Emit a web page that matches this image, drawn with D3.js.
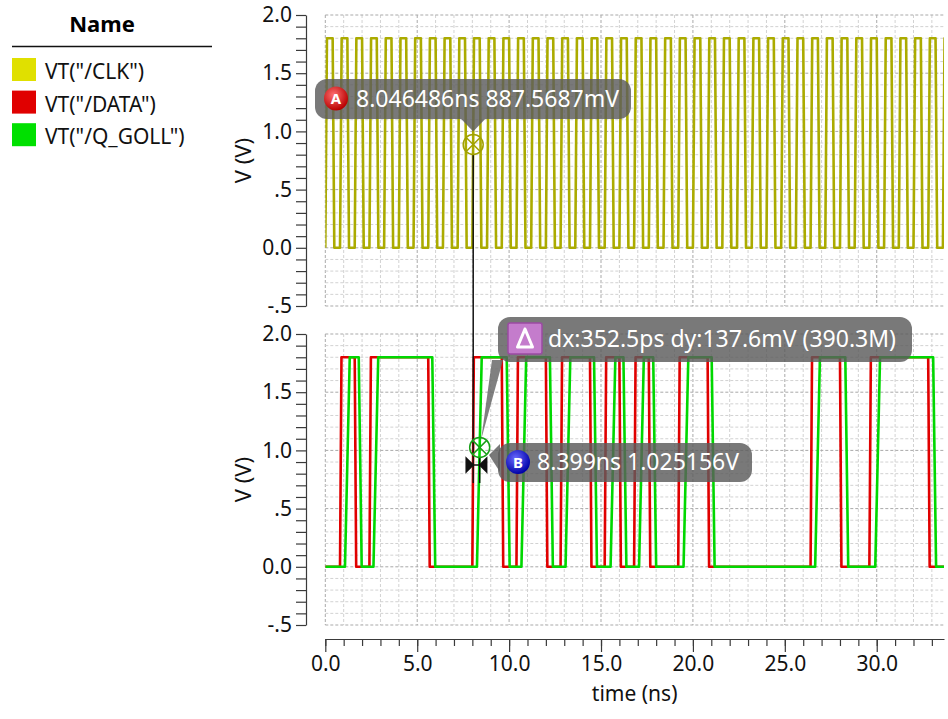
<!DOCTYPE html>
<html lang="en">
<head>
    <meta charset="UTF-8">
    <script src="https://d3js.org/d3.v7.min.js"></script>
    <title>VT waveforms</title>
    <style>
        body { margin: 0; background: #fff; }
        text { font-family: "Noto Sans", sans-serif; }
    </style>
</head>
<body>

    <div id="chart"></div>

    <script>
        // legend entries
        let names = ['VT("/CLK")', 'VT("/DATA")', 'VT("/Q_GOLL")'];
        let swatchColors = ["#e0e000", "#e00000", "#00e000"];
        let traceColors = ["#abab00", "#e00000", "#00d800"];

        // CLK edge times in ns (starts low, first edge rises)
        let clkEdges = [0, 0.4, 0.8, 1.2, 1.6, 2.0, 2.4, 2.8, 3.2, 3.6,
            4.0, 4.4, 4.8, 5.2, 5.6, 6.0, 6.4, 6.8, 7.2, 7.6,
            8.0, 8.4, 8.8, 9.2, 9.6, 10.0, 10.4, 10.8, 11.2, 11.6,
            12.0, 12.4, 12.8, 13.2, 13.6, 14.0, 14.4, 14.8, 15.2, 15.6,
            16.0, 16.4, 16.8, 17.2, 17.6, 18.0, 18.4, 18.8, 19.2, 19.6,
            20.0, 20.4, 20.8, 21.2, 21.6, 22.0, 22.4, 22.8, 23.2, 23.6,
            24.0, 24.4, 24.8, 25.2, 25.6, 26.0, 26.4, 26.8, 27.2, 27.6,
            28.0, 28.4, 28.8, 29.2, 29.6, 30.0, 30.4, 30.8, 31.2, 31.6,
            32.0, 32.4, 32.8, 33.2, 33.6];

        // DATA edge times in ns (starts low)
        let dataEdges = [0.8, 1.6, 2.4, 5.6, 8.0, 9.6, 10.4, 12.0, 12.8, 14.4,
            15.2, 16.0, 16.8, 17.6, 19.2, 20.8, 26.4, 28.0, 29.6, 32.8];

        // Q_GOLL edge mid-points in ns (starts low)
        let qEdges = [1.2, 1.9, 2.75, 5.9, 8.38, 9.95, 10.8, 12.3, 13.2, 14.7,
            15.65, 16.3, 17.2, 17.92, 19.62, 21.1, 26.78, 28.37, 30.05, 33.15];

        let vLow = 0, vHigh = 1.8;
        let tEnd = 33.66;

        // axis ticks
        let yTickValues = [-0.5, 0, 0.5, 1.0, 1.5, 2.0];
        let yTickLabels = ["-.5", "0.0", ".5", "1.0", "1.5", "2.0"];
        let xTickValues = [0, 5, 10, 15, 20, 25, 30];
        let xTickLabels = ["0.0", "5.0", "10.0", "15.0", "20.0", "25.0", "30.0"];

        // markers
        let markerA = {t: 8.046486, v: 0.8875687, label: "8.046486ns 887.5687mV"};
        let markerB = {t: 8.399, v: 1.025156, label: "8.399ns 1.025156V"};
        let deltaLabel = "dx:352.5ps dy:137.6mV (390.3M)";

        let width = 948, height = 719;
        let plotLeft = 325.3, plotRight = 944;
        let topPlot = {top: 15, bottom: 306};
        let botPlot = {top: 334, bottom: 625};
        let axisX = 306;
        let xAxisY = 639;

        let svg = d3.select("#chart")
            .append("svg")
            .attr("width", width)
            .attr("height", height);

        let defs = svg.append("defs");
        let gA = defs.append("radialGradient").attr("id", "gradA").attr("cx", "40%").attr("cy", "35%").attr("r", "65%");
        gA.append("stop").attr("offset", "0%").attr("stop-color", "#ff7070");
        gA.append("stop").attr("offset", "100%").attr("stop-color", "#b80000");
        let gB = defs.append("radialGradient").attr("id", "gradB").attr("cx", "40%").attr("cy", "35%").attr("r", "65%");
        gB.append("stop").attr("offset", "0%").attr("stop-color", "#6a6aff");
        gB.append("stop").attr("offset", "100%").attr("stop-color", "#0000a8");
        defs.append("clipPath").attr("id", "clip")
            .append("rect")
            .attr("x", plotLeft).attr("y", 0)
            .attr("width", plotRight - plotLeft).attr("height", height);

        let x = d3.scaleLinear().domain([0, tEnd]).range([plotLeft, plotRight]);
        let yTop = d3.scaleLinear().domain([-0.5, 2.0]).range([topPlot.bottom, topPlot.top]);
        let yBot = d3.scaleLinear().domain([-0.5, 2.0]).range([botPlot.bottom, botPlot.top]);

        // grid lines: every 1ns and every 0.1V, darker on the major ones
        let gridT = d3.range(0, Math.floor(tEnd) + 1);
        let gridV = d3.range(-5, 21).map(function(d) { return d / 10; });

        let drawGrid = function(y, box) {
            let g = svg.append("g");
            g.selectAll("line.v")
                .data(gridT)
                .enter()
                .append("line")
                .attr("x1", function(d) { return x(d); })
                .attr("x2", function(d) { return x(d); })
                .attr("y1", box.top)
                .attr("y2", box.bottom)
                .attr("stroke", function(d) { return d % 5 === 0 ? "#a9a9a9" : "#d2d2d2"; })
                .attr("stroke-width", 1)
                .attr("stroke-dasharray", "3,2");
            g.selectAll("line.h")
                .data(gridV)
                .enter()
                .append("line")
                .attr("x1", plotLeft)
                .attr("x2", plotRight)
                .attr("y1", function(d) { return y(d); })
                .attr("y2", function(d) { return y(d); })
                .attr("stroke", function(d) { return Math.round(d * 10) % 5 === 0 ? "#a9a9a9" : "#d2d2d2"; })
                .attr("stroke-width", 1)
                .attr("stroke-dasharray", "3,2");
        }
        drawGrid(yTop, topPlot);
        drawGrid(yBot, botPlot);

        // y axes
        let drawYAxis = function(y, mid) {
            let g = svg.append("g")
                .attr("transform", "translate(" + axisX + ",0)");
            g.call(d3.axisLeft(y).tickValues(gridV).tickSize(10).tickSizeOuter(0).tickPadding(4)
                .tickFormat(function(d) {
                    let i = yTickValues.findIndex(function(v) { return Math.abs(v - d) < 1e-6; });
                    return i >= 0 ? yTickLabels[i] : "";
                }));
            g.selectAll("path, line").attr("stroke", "#3a3a3a").attr("stroke-width", 1.2);
            g.selectAll("text").style("font-size", "21px").attr("fill", "#111");
            svg.append("text")
                .attr("transform", "translate(243," + mid + ") rotate(-90)")
                .attr("text-anchor", "middle")
                .attr("dy", "0.35em")
                .style("font-size", "22px")
                .attr("fill", "#111")
                .text("V (V)");
        }
        drawYAxis(yTop, (topPlot.top + topPlot.bottom) / 2);
        drawYAxis(yBot, (botPlot.top + botPlot.bottom) / 2);

        // x axis: minor ticks every ns, labelled major ticks every 5ns
        let xMinor = svg.append("g").attr("transform", "translate(0," + xAxisY + ")");
        xMinor.call(d3.axisBottom(x).tickValues(gridT).tickSize(7).tickSizeOuter(0).tickFormat(""));
        let xMajor = svg.append("g").attr("transform", "translate(0," + xAxisY + ")");
        xMajor.call(d3.axisBottom(x).tickValues(xTickValues).tickSize(13).tickSizeOuter(0).tickPadding(4)
            .tickFormat(function(d, i) { return xTickLabels[i]; }));
        xMajor.select("path").remove();
        svg.selectAll("g.tick line, .domain").attr("stroke", "#3a3a3a").attr("stroke-width", 1.2);
        xMajor.selectAll("text").style("font-size", "21px").attr("fill", "#111");

        svg.append("text")
            .attr("x", (plotLeft + plotRight) / 2)
            .attr("y", 701)
            .attr("text-anchor", "middle")
            .style("font-size", "21px")
            .attr("fill", "#111")
            .text("time (ns)");

        // waveform builder: edges -> ramped step points
        let wave = function(edges, rampUp, rampDn, centred) {
            let pts = [[0, vLow]];
            let level = vLow;
            edges.forEach(function(t) {
                let up = level === vLow;
                let r = up ? rampUp : rampDn;
                let t0 = centred ? t - r / 2 : t;
                pts.push([t0, level]);
                level = up ? vHigh : vLow;
                pts.push([t0 + r, level]);
            });
            pts.push([tEnd + 1, level]);
            return pts;
        }

        let traces = svg.append("g").attr("clip-path", "url(#clip)");
        let lineTop = d3.line().x(function(d) { return x(d[0]); }).y(function(d) { return yTop(d[1]); });
        let lineBot = d3.line().x(function(d) { return x(d[0]); }).y(function(d) { return yBot(d[1]); });

        traces.append("path")
            .datum(wave(clkEdges, 0.09, 0.09, false))
            .attr("d", lineTop)
            .attr("fill", "none")
            .attr("stroke", traceColors[0])
            .attr("stroke-width", 2.6)
            .attr("stroke-linejoin", "round");
        traces.append("path")
            .datum(wave(dataEdges, 0.08, 0.08, false))
            .attr("d", lineBot)
            .attr("fill", "none")
            .attr("stroke", traceColors[1])
            .attr("stroke-width", 2.6)
            .attr("stroke-linejoin", "round");
        traces.append("path")
            .datum(wave(qEdges, 0.26, 0.16, true))
            .attr("d", lineBot)
            .attr("fill", "none")
            .attr("stroke", traceColors[2])
            .attr("stroke-width", 2.6)
            .attr("stroke-linejoin", "round");

        // legend
        svg.append("text")
            .attr("x", 102).attr("y", 32)
            .attr("text-anchor", "middle")
            .style("font-size", "22px")
            .style("font-weight", "bold")
            .attr("fill", "#000")
            .text("Name");
        svg.append("line")
            .attr("x1", 12).attr("x2", 212)
            .attr("y1", 46.5).attr("y2", 46.5)
            .attr("stroke", "#111").attr("stroke-width", 1.5);
        let legend = svg.selectAll("g.leg")
            .data(names)
            .enter()
            .append("g")
            .attr("transform", function(d, i) { return "translate(12," + (58 + i * 32.6) + ")"; });
        legend.append("rect")
            .attr("width", 24).attr("height", 23)
            .attr("fill", function(d, i) { return swatchColors[i]; });
        legend.append("text")
            .attr("x", 33).attr("y", 21)
            .style("font-size", "21px")
            .attr("fill", "#111")
            .text(function(d) { return d; });

        // markers
        let ax = x(markerA.t), ay = yTop(markerA.v);
        let bx = x(markerB.t), by = yBot(markerB.v);
        let cross = function(cx, cy, r, col) {
            let g = svg.append("g").attr("stroke", col).attr("stroke-width", 1.5).attr("fill", "none");
            g.append("circle").attr("cx", cx).attr("cy", cy).attr("r", r);
            let k = r * 0.707;
            g.append("line").attr("x1", cx - k).attr("y1", cy - k).attr("x2", cx + k).attr("y2", cy + k);
            g.append("line").attr("x1", cx - k).attr("y1", cy + k).attr("x2", cx + k).attr("y2", cy - k);
        }

        // vertical marker line A and delta bow tie
        svg.append("line")
            .attr("x1", ax).attr("x2", ax)
            .attr("y1", ay + 10).attr("y2", 483)
            .attr("stroke", "#111").attr("stroke-width", 1.5);
        svg.append("line")
            .attr("x1", bx).attr("x2", bx)
            .attr("y1", 458).attr("y2", 483)
            .attr("stroke", "#111").attr("stroke-width", 1.5);
        let tieY = 465;
        svg.append("path")
            .attr("d", "M" + (ax - 7) + "," + (tieY - 7) + "L" + ax + "," + tieY + "L" + (ax - 7) + "," + (tieY + 7) + "Z"
                + "M" + (bx + 7) + "," + (tieY - 7) + "L" + bx + "," + tieY + "L" + (bx + 7) + "," + (tieY + 7) + "Z"
                + "M" + ax + "," + tieY + "L" + bx + "," + tieY)
            .attr("fill", "#111").attr("stroke", "#111").attr("stroke-width", 1.5);

        cross(ax, ay, 10, "#a0a000");
        cross(bx, by, 10, "#18a018");

        let boxFill = "#5c5c5c", boxOpacity = 0.82;

        // label A
        let labA = svg.append("g");
        labA.append("rect")
            .attr("x", 315).attr("y", 79).attr("width", 316).attr("height", 40).attr("rx", 12)
            .attr("fill", boxFill).attr("opacity", boxOpacity);
        labA.append("path")
            .attr("d", "M" + (ax - 12) + ",119L" + (ax + 12) + ",119L" + ax + "," + (ay - 13) + "Z")
            .attr("fill", boxFill).attr("opacity", boxOpacity);
        labA.append("circle").attr("cx", 336).attr("cy", 98.5).attr("r", 12).attr("fill", "url(#gradA)");
        labA.append("text").attr("x", 336).attr("y", 104).attr("text-anchor", "middle")
            .style("font-size", "15px").style("font-weight", "bold").attr("fill", "#fff").text("A");
        labA.append("text").attr("x", 356).attr("y", 107)
            .style("font-size", "23px").attr("fill", "#fff").text(markerA.label);

        // delta label with pointer to B
        let labD = svg.append("g");
        labD.append("path")
            .attr("d", "M492,360L503,360L" + (bx + 1.5) + "," + (by - 8) + "Z")
            .attr("fill", "#6a6a6a").attr("opacity", 0.85);
        labD.append("rect")
            .attr("x", 498).attr("y", 317).attr("width", 414).attr("height", 45).attr("rx", 12)
            .attr("fill", boxFill).attr("opacity", boxOpacity);
        labD.append("rect")
            .attr("x", 508).attr("y", 323).attr("width", 34).attr("height", 31).attr("rx", 2)
            .attr("fill", "#c47ccc").attr("stroke", "#9a4aa2").attr("stroke-width", 1.5);
        labD.append("path")
            .attr("d", "M525,329L517.5,347L532.5,347Z")
            .attr("fill", "none").attr("stroke", "#fff").attr("stroke-width", 3).attr("stroke-linejoin", "round");
        labD.append("text").attr("x", 548).attr("y", 347)
            .style("font-size", "23px").attr("fill", "#fff").text(deltaLabel);

        // label B
        let labB = svg.append("g");
        labB.append("path")
            .attr("d", "M500,444L489,455L500,472Z")
            .attr("fill", boxFill).attr("opacity", boxOpacity);
        labB.append("rect")
            .attr("x", 498).attr("y", 443).attr("width", 254).attr("height", 39).attr("rx", 12)
            .attr("fill", boxFill).attr("opacity", boxOpacity);
        labB.append("circle").attr("cx", 518).attr("cy", 462).attr("r", 12).attr("fill", "url(#gradB)");
        labB.append("text").attr("x", 518).attr("y", 467.5).attr("text-anchor", "middle")
            .style("font-size", "15px").style("font-weight", "bold").attr("fill", "#fff").text("B");
        labB.append("text").attr("x", 537).attr("y", 470)
            .style("font-size", "23px").attr("fill", "#fff").text(markerB.label);

    </script>

</body>
</html>
